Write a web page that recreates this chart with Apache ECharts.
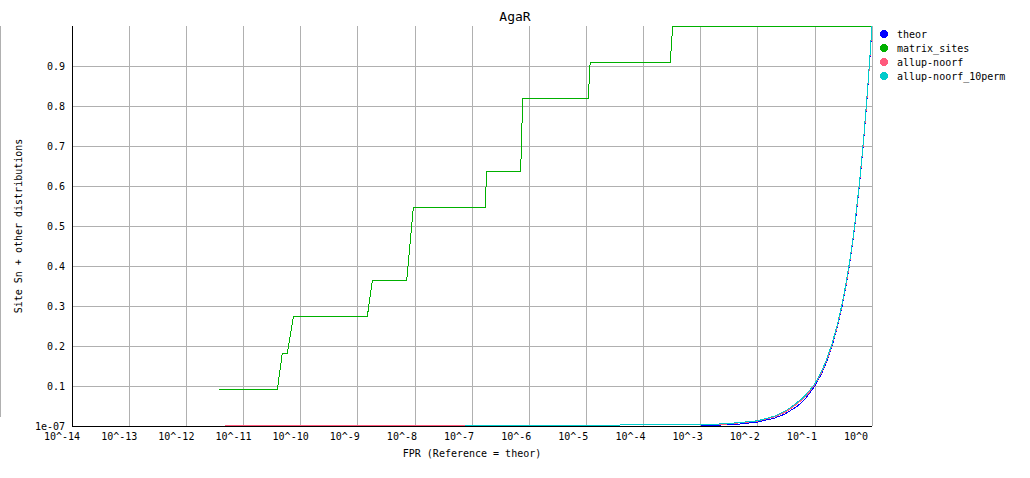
<!DOCTYPE html>
<html>
<head>
<meta charset="utf-8">
<script src="https://cdn.jsdelivr.net/npm/echarts@6/dist/echarts.min.js"></script>
<style>
html,body{margin:0;padding:0;background:#fff;}
#chart{width:1030px;height:478px;}
#chart svg path{shape-rendering:crispEdges;}
</style>
</head>
<body>
<div id="chart"></div>
<script>
// ---- data ----
const title = 'AgaR';
const seriesNames = ['theor', 'matrix_sites', 'allup-noorf', 'allup-noorf_10perm'];

// theor
const theorFpr = [1e-3, 2e-3, 5e-3, 1e-2, 2e-2, 3e-2, 5e-2, 0.07, 0.1, 0.13, 0.16, 0.2, 0.25, 0.3, 0.35, 0.4, 0.45, 0.5, 0.55, 0.6, 0.65, 0.7, 0.75, 0.8, 0.85, 0.9, 0.95, 1];
const theorSn  = [0.001, 0.002, 0.005, 0.01, 0.02, 0.03, 0.05, 0.07, 0.1, 0.13, 0.16, 0.2, 0.25, 0.3, 0.35, 0.4, 0.45, 0.5, 0.55, 0.6, 0.65, 0.7, 0.75, 0.8, 0.85, 0.9, 0.95, 1];

// matrix_sites (step curve)
const sitesFpr = [3.7e-12, 3.92e-11, 4.79e-11, 5.86e-11, 7.46e-11, 1.47e-9, 1.80e-9, 7.19e-9, 9.40e-9,
                  1.69e-7, 1.81e-7, 7.11e-7, 7.71e-7, 1.08e-5, 1.17e-5, 2.95e-4, 3.25e-4, 1];
const sitesSn  = [0.0909, 0.0909, 0.1818, 0.1818, 0.2727, 0.2727, 0.3636, 0.3636, 0.5455,
                  0.5455, 0.6364, 0.6364, 0.8182, 0.8182, 0.9091, 0.9091, 1.0, 1.0];

// allup-noorf
const noorfFpr = [4.8e-12, 7.5e-8, 1e-3, 3e-3, 1e-2, 2e-2, 3e-2, 4e-2, 0.06, 0.08, 0.1, 0.13, 0.16, 0.2, 0.25, 0.3, 0.35, 0.4, 0.45, 0.5, 0.6, 0.7, 0.8, 0.9, 1];
const noorfSn  = [0.0015, 0.0015, 0.003, 0.005, 0.012, 0.023, 0.034, 0.046, 0.066, 0.085, 0.104, 0.133, 0.163, 0.203, 0.253, 0.303, 0.352, 0.402, 0.452, 0.502, 0.602, 0.702, 0.801, 0.9, 1];

// allup-noorf_10perm
const permFpr = [7.5e-8, 1e-3, 3e-3, 1e-2, 2e-2, 3e-2, 4e-2, 0.06, 0.08, 0.1, 0.13, 0.16, 0.2, 0.25, 0.3, 0.35, 0.4, 0.45, 0.5, 0.6, 0.7, 0.8, 0.9, 1];
const permSn  = [0.0015, 0.003, 0.006, 0.013, 0.025, 0.037, 0.049, 0.069, 0.088, 0.106, 0.136, 0.166, 0.206, 0.256, 0.306, 0.356, 0.405, 0.455, 0.505, 0.605, 0.705, 0.805, 0.905, 1];

const yTickLabels = {0: '1e-07', 1: ''};
const xName = 'FPR (Reference = theor)';
const yName = 'Site Sn + other distributions';
const colors = ['#0000ff', '#00b000', '#ff5a7d', '#00cccc'];

// ---- chart ----
function pairs(xs, ys) { return xs.map((x, i) => [x, ys[i]]); }
const FONT = 'DejaVu Sans Mono';
const chart = echarts.init(document.getElementById('chart'), null, {renderer: 'svg'});
const dataSets = [pairs(theorFpr, theorSn), pairs(sitesFpr, sitesSn), pairs(noorfFpr, noorfSn), pairs(permFpr, permSn)];

chart.setOption({
  animation: false,
  backgroundColor: '#ffffff',
  color: colors,
  title: {
    text: title, left: 'center', top: 5,
    textStyle: {fontFamily: FONT, fontSize: 13, fontWeight: 'normal', color: '#000'}
  },
  legend: {
    orient: 'vertical', left: 875, top: 24, itemWidth: 16, itemHeight: 8, itemGap: 4,
    icon: 'circle',
    textStyle: {fontFamily: FONT, fontSize: 10, color: '#000', lineHeight: 10},
    data: seriesNames
  },
  grid: {left: 72, right: 158, top: 26, bottom: 52, containLabel: false},
  xAxis: {
    type: 'log', logBase: 10, min: 1e-14, max: 1, interval: 1,
    name: xName, nameLocation: 'middle', nameGap: 22,
    nameTextStyle: {fontFamily: FONT, fontSize: 10, color: '#000'},
    axisLine: {lineStyle: {color: '#000', width: 1}},
    axisTick: {show: false},
    splitLine: {show: true, lineStyle: {color: '#b0b0b0', width: 1}},
    axisLabel: {
      margin: 5, color: '#000', fontFamily: FONT, fontSize: 10,
      formatter: function (v) { const e = Math.round(Math.log10(v)); return '{a|10^' + e + '}'; },
      rich: {a: {width: 56, align: 'left', fontFamily: FONT, fontSize: 10, color: '#000'}}
    }
  },
  yAxis: {
    type: 'value', min: 0, max: 1, interval: 0.1,
    name: yName, nameLocation: 'middle', nameGap: 48,
    nameTextStyle: {fontFamily: FONT, fontSize: 10, color: '#000'},
    axisLine: {show: true, lineStyle: {color: '#000', width: 1}},
    axisTick: {show: false},
    splitLine: {show: true, showMaxLine: false, lineStyle: {color: '#b0b0b0', width: 1}},
    axisLabel: {
      margin: 7, color: '#000', fontFamily: FONT, fontSize: 10,
      formatter: function (v) {
        const k = Math.round(v * 10) / 10;
        if (yTickLabels.hasOwnProperty(k)) return yTickLabels[k];
        return k.toFixed(1);
      }
    }
  },
  graphic: [{
    type: 'line', shape: {x1: 0.5, y1: 26, x2: 0.5, y2: 417},
    style: {stroke: '#b0b0b0', lineWidth: 1}, silent: true
  }],
  series: seriesNames.map((n, i) => ({
    name: n, type: 'line', data: dataSets[i], showSymbol: false, symbol: 'circle',
    lineStyle: {width: 1, color: colors[i]}, itemStyle: {color: colors[i]},
    emphasis: {disabled: true}
  }))
});
</script>
</body>
</html>
